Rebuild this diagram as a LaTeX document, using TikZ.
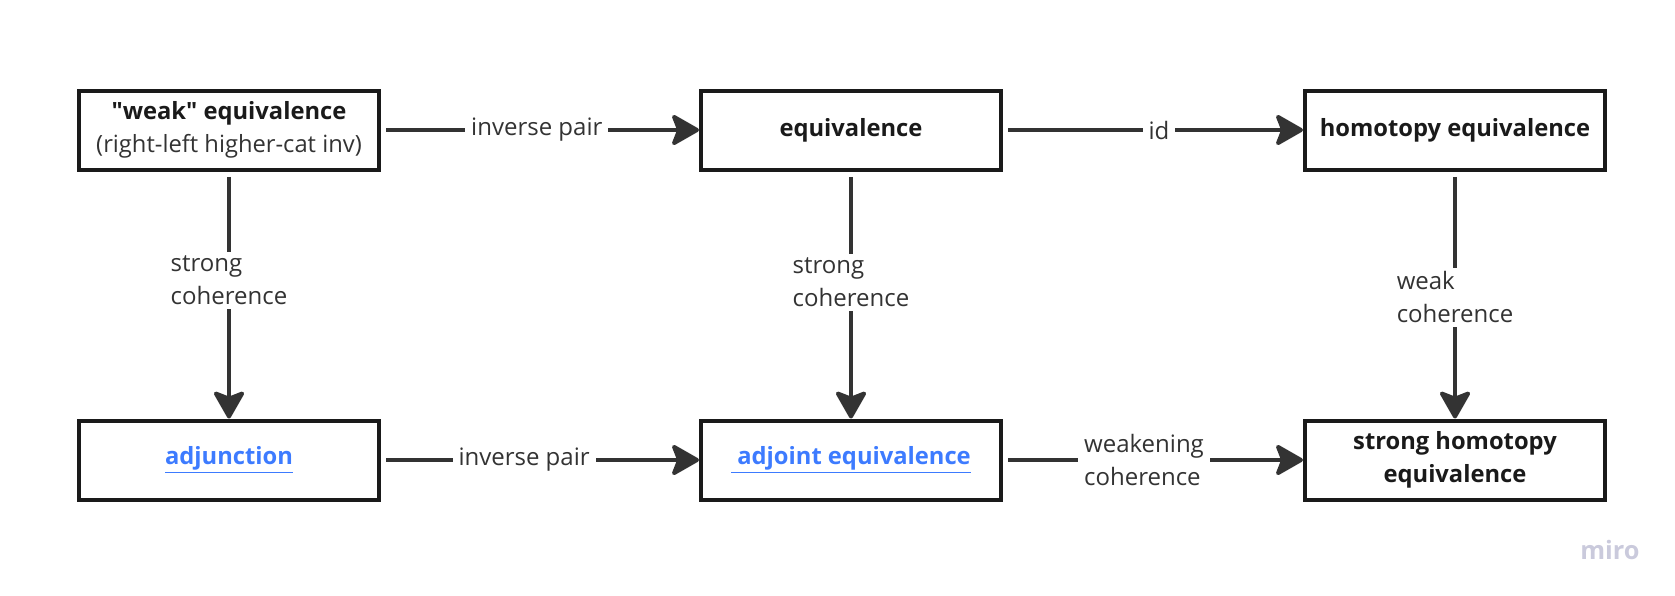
\documentclass[tikz,border=0pt]{standalone}
\usepackage{fontspec}
\setmainfont{Open Sans}
\usetikzlibrary{arrows.meta}

\definecolor{boxline}{HTML}{1A1A1A}
\definecolor{arrowgrey}{HTML}{333333}
\definecolor{linkblue}{HTML}{3D7BFF}
\definecolor{miromark}{HTML}{CACADC}

\begin{document}
\begin{tikzpicture}[
    x=0.75pt, y=-0.75pt,
    % Style for the boxes of the notions
    notion/.style={draw=boxline, line width=3pt, minimum width=225pt,
        minimum height=59.25pt, align=center, text=boxline,
        font=\fontsize{17.8}{24.75}\selectfont\bfseries},
    % Style for the implication arrows and their labels
    implies/.style={draw=arrowgrey, line width=3pt, shorten <=4pt,
        -{Stealth[length=23pt, width=26pt, inset=5pt, round]}},
    tag/.style={fill=white, text=arrowgrey, align=left, inner xsep=4.5pt,
        inner ysep=3pt, font=\fontsize{18}{24.75}\selectfont}
]

    % Canvas
    \useasboundingbox (0,0) rectangle (1675,596);

    % Box centres

    \coordinate (P-weak) at (229, 130);
    \coordinate (P-eq) at (851, 130);
    \coordinate (P-htpy) at (1455, 130);
    \coordinate (P-adj) at (229, 460);
    \coordinate (P-adjeq) at (851, 460);
    \coordinate (P-shtpy) at (1455, 460);


    % Boxes

    %% Top row
    \node[notion] (weak) at (P-weak) {\textquotedbl weak\textquotedbl{} equivalence\\
        \mdseries\textcolor{arrowgrey}{(right-left higher-cat inv)}};
    \node[notion] (eq) at (P-eq) {equivalence};
    \node[notion] (htpy) at (P-htpy) {homotopy equivalence};

    %% Bottom row (the blue ones are links)
    \node[notion, text=linkblue] (adj) at (P-adj) {\underline{adjunction}};
    \node[notion, text=linkblue] (adjeq) at (P-adjeq) {\underline{\ adjoint equivalence}};
    \node[notion] (shtpy) at (P-shtpy) {strong homotopy\\equivalence};


    % Arrows

    %% Horizontal ones
    \draw[implies] (weak) -- node[tag, pos=0.49] {inverse pair} (eq);
    \draw[implies] (eq) -- node[tag, pos=0.52] {id} (htpy);
    \draw[implies] (adj) -- node[tag, pos=0.45] {inverse pair} (adjeq);
    \draw[implies] (adjeq) -- node[tag, pos=0.47] {weakening\\coherence} (shtpy);

    %% Vertical ones
    \draw[implies] (weak) -- node[tag, pos=0.44] {strong\\coherence} (adj);
    \draw[implies] (eq) -- node[tag, pos=0.45] {strong\\coherence} (adjeq);
    \draw[implies] (htpy) -- node[tag, pos=0.51] {weak\\coherence} (shtpy);


    % Watermark
    \node[text=miromark, font=\fontsize{19}{19}\selectfont\bfseries] (miro) at (1610, 550) {miro};

\end{tikzpicture}
\end{document}
